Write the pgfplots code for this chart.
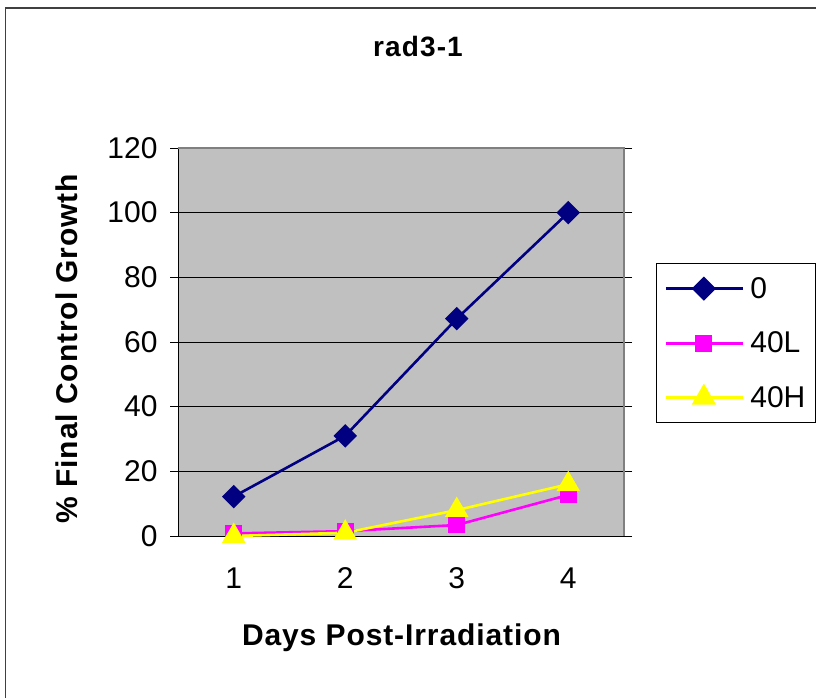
\documentclass[border=0pt]{standalone}
\usepackage{pgfplots}
\pgfplotsset{compat=1.18}
\usepackage{fontspec}
\setmainfont{Liberation Sans}
\newfontfamily\spacedfont[LetterSpace=4]{Liberation Sans}
\newfontfamily\labelfont[LetterSpace=3]{Liberation Sans}
\definecolor{plotgray}{HTML}{C0C0C0}
\definecolor{navy}{HTML}{000080}
\definecolor{mag}{HTML}{FF00FF}
\definecolor{yel}{HTML}{FFFF00}
\begin{document}
\begin{tikzpicture}[x=1pt,y=1pt]
\useasboundingbox (0,0) rectangle (816,697);
\draw[line width=1.5pt, black!75] (5.5,-10) -- (5.5,689) -- (830,689);
\node[font=\spacedfont\fontsize{28}{31}\selectfont\bfseries] at (418,650) {rad3-1};
\begin{axis}[
  at={(178pt,161pt)}, anchor=south west,
  scale only axis, width=446pt, height=388pt,
  xmin=0.5, xmax=4.5, ymin=0, ymax=120,
  ytick={0,20,...,120},
  xtick={1,2,3,4},
  /pgf/number format/assume math mode=true,
  tick label style={font=\fontsize{30}{34}\selectfont},
  axis background/.style={fill=plotgray},
  axis line style={black, line width=0.8pt},
  ymajorgrids, grid style={black, line width=0.8pt},
  tick style={black, line width=0.8pt},
  tick align=outside,
  major tick length=8pt,
  x tick style={draw=none},
  extra x ticks={0.5,1.5,2.5,3.5,4.5},
  extra x tick labels={},
  extra x tick style={tick style={draw=black, line width=0.8pt}, grid=none},
  xticklabel style={yshift=-20pt},
  yticklabel style={xshift=-9pt},
  xlabel={Days Post-Irradiation},
  ylabel={\% Final Control Growth},
  label style={font=\labelfont\fontsize{30}{34}\selectfont\bfseries},
  xlabel style={at={(axis description cs:0.501,-0.263)}, anchor=center},
  ylabel style={at={(axis description cs:-0.249,0.483)}, anchor=center, rotate=0},
  legend style={at={(axis description cs:1.0717,0.7036)}, anchor=north west,
    draw=black, line width=0.8pt, font=\fontsize{30}{34}\selectfont,
    inner xsep=8pt, inner ysep=12pt, row sep=28pt, cells={anchor=west},
    /tikz/every odd column/.append style={column sep=4pt}},
  legend image code/.code={
    \draw[#1, line width=3pt, mark repeat=2, mark phase=2] plot coordinates {(0pt,0pt) (38pt,0pt) (77pt,0pt)};
  },
  clip=false,
]
\addplot[navy, line width=2.6pt, mark=square*, mark size=7pt, mark options={rotate=45, solid, fill=navy}]
  coordinates {(1,12.2) (2,31) (3,67.2) (4,100)};
\addlegendentry{0}
\addplot[mag, line width=2.6pt, mark=square*, mark size=7pt, mark options={solid, fill=mag}]
  coordinates {(1,0.8) (2,1.5) (3,3.4) (4,12.7)};
\addlegendentry{40L}
\addplot[yel, line width=2.6pt, mark=triangle*, mark size=11pt, mark options={solid, fill=yel}]
  coordinates {(1,0) (2,1) (3,8) (4,16)};
\addlegendentry{40H}
\draw[gray, line width=1.5pt] (axis cs:0.5,120) -- (axis cs:4.5,120) -- (axis cs:4.5,0);
\end{axis}
\end{tikzpicture}
\end{document}
